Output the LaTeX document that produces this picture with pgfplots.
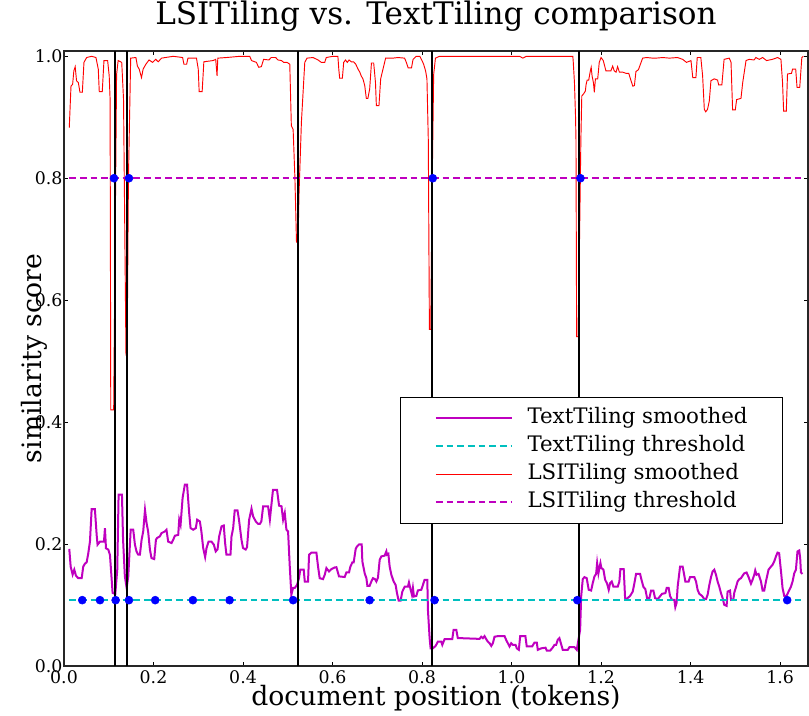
\documentclass[border=0pt]{standalone}
\usepackage{fontspec}
\setmainfont{DejaVu Serif}
\usepackage{pgfplots}
\usepackage{pgfplotstable}
\pgfplotsset{compat=1.18}

\definecolor{mplmagenta}{rgb}{0.75,0,0.75}
\definecolor{mplcyan}{rgb}{0,0.75,0.75}

% TextTiling smoothed similarity (position in 1e4 tokens, score)
\pgfplotstableread{
x y
0.0118 0.192
0.0149 0.163
0.0193 0.150
0.0230 0.158
0.0268 0.148
0.0320 0.144
0.0395 0.144
0.0430 0.163
0.0469 0.168
0.0506 0.170
0.0543 0.185
0.0580 0.204
0.0618 0.2575
0.0690 0.2575
0.0730 0.215
0.0750 0.199
0.0804 0.204
0.0893 0.204
0.0915 0.226
0.0938 0.193
0.0990 0.191
0.1027 0.182
0.1050 0.158
0.1086 0.120
0.1146 0.118
0.1190 0.158
0.1220 0.281
0.1295 0.281
0.1320 0.207
0.1360 0.147
0.1400 0.128
0.1436 0.147
0.1490 0.2235
0.1547 0.2235
0.1585 0.199
0.1620 0.188
0.1659 0.1825
0.1696 0.1825
0.1734 0.207
0.1770 0.2207
0.1810 0.256
0.1845 0.2345
0.1880 0.2207
0.1920 0.191
0.1955 0.177
0.2016 0.1754
0.2054 0.207
0.2080 0.210
0.2140 0.2125
0.2180 0.218
0.2254 0.2207
0.2290 0.2235
0.2328 0.204
0.2404 0.2017
0.2440 0.207
0.2478 0.2137
0.2552 0.215
0.2575 0.240
0.2605 0.2317
0.2650 0.2756
0.2700 0.2974
0.2750 0.2974
0.2797 0.251
0.2828 0.2263
0.2887 0.2235
0.2946 0.2263
0.2976 0.240
0.3036 0.237
0.3070 0.2207
0.3110 0.1935
0.3154 0.1787
0.3185 0.1935
0.3230 0.204
0.3296 0.204
0.3348 0.199
0.3390 0.188
0.3430 0.191
0.3467 0.2125
0.3520 0.229
0.3570 0.2305
0.3600 0.2017
0.3630 0.1825
0.3720 0.1825
0.3743 0.2125
0.3780 0.2263
0.3815 0.2552
0.3877 0.2552
0.3910 0.240
0.3966 0.207
0.4000 0.1935
0.4060 0.191
0.4090 0.195
0.4137 0.240
0.4190 0.258
0.4226 0.2454
0.4286 0.237
0.4340 0.233
0.4375 0.233
0.4410 0.237
0.4450 0.262
0.4560 0.262
0.4600 0.240
0.4635 0.2646
0.4670 0.289
0.4760 0.289
0.4806 0.263
0.4860 0.262
0.4896 0.240
0.4933 0.251
0.4970 0.2235
0.5007 0.2207
0.5045 0.163
0.5080 0.1168
0.5119 0.128
0.5156 0.128
0.5208 0.133
0.5250 0.144
0.5280 0.158
0.5357 0.158
0.5380 0.1386
0.5453 0.1386
0.5476 0.1825
0.5530 0.186
0.5640 0.186
0.5677 0.163
0.5714 0.144
0.5788 0.1425
0.5826 0.1496
0.5864 0.1606
0.5922 0.155
0.5975 0.159
0.6049 0.1616
0.6087 0.162
0.6145 0.147
0.6272 0.146
0.6310 0.1534
0.6368 0.1534
0.6400 0.163
0.6444 0.170
0.6473 0.170
0.6518 0.192
0.6547 0.196
0.6592 0.1994
0.6652 0.1994
0.6667 0.1715
0.6719 0.152
0.6757 0.144
0.6779 0.1316
0.6830 0.1316
0.6868 0.1386
0.6904 0.144
0.6949 0.1425
0.6980 0.1386
0.7016 0.145
0.7054 0.174
0.7090 0.1797
0.7165 0.181
0.7203 0.188
0.7217 0.1825
0.7248 0.184
0.7277 0.163
0.7315 0.1496
0.7366 0.1386
0.7410 0.133
0.7440 0.1196
0.7478 0.1074
0.7522 0.1074
0.7560 0.122
0.7612 0.130
0.7685 0.130
0.7708 0.137
0.7746 0.125
0.7775 0.1168
0.7797 0.128
0.7820 0.114
0.7873 0.115
0.7908 0.124
0.7984 0.125
0.8020 0.133
0.8058 0.1414
0.8118 0.1414
0.8132 0.092
0.8170 0.0457
0.8192 0.029
0.8243 0.029
0.8304 0.033
0.8355 0.040
0.8430 0.040
0.8453 0.0347
0.8504 0.044
0.8676 0.044
0.8705 0.0593
0.8766 0.0593
0.8800 0.0457
0.8855 0.0457
0.9286 0.0445
0.9323 0.048
0.9360 0.0457
0.9397 0.049
0.9435 0.044
0.9470 0.040
0.9510 0.0374
0.9547 0.033
0.9583 0.0374
0.9620 0.048
0.9694 0.049
0.9844 0.049
0.9880 0.0429
0.9955 0.032
0.9993 0.0374
1.0030 0.0347
1.0090 0.0347
1.0118 0.029
1.0163 0.0265
1.0194 0.049
1.0310 0.049
1.0340 0.032
1.0460 0.032
1.0513 0.0384
1.0565 0.0384
1.0587 0.0265
1.0663 0.029
1.0760 0.030
1.0788 0.0253
1.0864 0.0253
1.0908 0.029
1.0960 0.0347
1.0997 0.0347
1.1033 0.043
1.1070 0.0457
1.1145 0.0265
1.1257 0.0265
1.1295 0.031
1.1406 0.031
1.1458 0.0265
1.1533 0.0593
1.1556 0.114
1.1592 0.1425
1.1630 0.1458
1.1680 0.144
1.1725 0.125
1.1779 0.1238
1.1815 0.136
1.1853 0.1468
1.1890 0.151
1.1913 0.1688
1.1942 0.152
1.1964 0.1606
1.1987 0.1688
1.2009 0.1606
1.2054 0.158
1.2092 0.1414
1.2136 0.135
1.2172 0.125
1.2203 0.136
1.2239 0.1386
1.2277 0.130
1.2373 0.130
1.2410 0.1386
1.2433 0.159
1.2507 0.159
1.2538 0.1114
1.2560 0.1097
1.2596 0.1114
1.2650 0.115
1.2708 0.122
1.2746 0.136
1.2783 0.151
1.2873 0.151
1.2895 0.144
1.2946 0.130
1.2990 0.126
1.3029 0.1114
1.3080 0.1114
1.3118 0.1238
1.3170 0.1238
1.3207 0.1114
1.3266 0.1097
1.3304 0.113
1.3364 0.1184
1.3438 0.1196
1.3467 0.128
1.3511 0.128
1.3542 0.115
1.3587 0.1085
1.3638 0.1085
1.3660 0.0966
1.3690 0.104
1.3712 0.130
1.3766 0.163
1.3824 0.163
1.3862 0.148
1.3884 0.1386
1.3958 0.1386
1.3989 0.1458
1.4085 0.1458
1.4123 0.1386
1.4158 0.125
1.4196 0.1184
1.4257 0.115
1.4308 0.1097
1.4346 0.1097
1.4382 0.1168
1.4420 0.133
1.4458 0.1458
1.4493 0.155
1.4531 0.158
1.4569 0.1496
1.4605 0.1386
1.4643 0.130
1.4680 0.1196
1.4717 0.1114
1.4754 0.1003
1.4806 0.0987
1.4828 0.122
1.4882 0.1238
1.4904 0.1085
1.4955 0.1085
1.4978 0.1205
1.5016 0.1294
1.5051 0.1386
1.5090 0.1425
1.5127 0.144
1.5163 0.148
1.5200 0.152
1.5252 0.1534
1.5297 0.1458
1.5350 0.135
1.5386 0.1414
1.5424 0.1496
1.5446 0.1567
1.5475 0.1496
1.5520 0.151
1.5574 0.1386
1.5610 0.1238
1.5647 0.1238
1.5685 0.1386
1.5743 0.158
1.5797 0.163
1.5833 0.166
1.5870 0.1715
1.5908 0.1797
1.5944 0.186
1.5980 0.185
1.6029 0.1496
1.6056 0.128
1.6094 0.115
1.6145 0.115
1.6190 0.122
1.6243 0.130
1.6280 0.1386
1.6317 0.152
1.6355 0.158
1.6390 0.188
1.6429 0.1895
1.6450 0.177
1.6467 0.1534
1.6502 0.151
}\texttiling

% LSITiling smoothed similarity
\pgfplotstableread{
x y
0.0118 0.883
0.0156 0.951
0.0193 0.954
0.0220 0.976
0.0250 0.983
0.0280 0.960
0.0320 0.957
0.0357 0.941
0.0410 0.941
0.0446 0.990
0.0506 0.998
0.0618 1.000
0.0714 0.998
0.0766 0.979
0.0788 0.942
0.0855 0.942
0.0893 0.993
0.0975 0.993
0.1010 0.968
0.1030 0.930
0.1045 0.420
0.1110 0.420
0.1175 0.970
0.1210 0.993
0.1290 0.990
0.1330 0.930
0.1385 0.510
0.1410 0.510
0.1440 0.800
0.1490 0.997
0.1607 0.998
0.1640 0.984
0.1680 0.979
0.1732 0.965
0.1768 0.979
0.1830 0.987
0.1900 0.994
0.1980 0.990
0.2050 0.995
0.2105 0.991
0.2180 0.997
0.2440 1.000
0.2650 0.998
0.2680 0.987
0.2740 0.987
0.2770 0.997
0.2960 0.997
0.3000 0.979
0.3020 0.942
0.3087 0.942
0.3125 0.991
0.3330 0.993
0.3390 0.995
0.3420 0.968
0.3437 0.997
0.3630 0.998
0.3929 1.000
0.4150 1.000
0.4190 0.993
0.4300 0.990
0.4350 0.982
0.4410 0.983
0.4460 0.995
0.4580 0.994
0.4630 0.998
0.4730 0.998
0.4780 0.994
0.4860 0.993
0.4910 0.990
0.4985 0.990
0.5045 0.987
0.5080 0.886
0.5120 0.880
0.5160 0.800
0.5195 0.695
0.5230 0.695
0.5250 0.771
0.5305 0.892
0.5380 0.990
0.5430 0.997
0.5565 0.998
0.5676 0.994
0.5750 0.990
0.5826 0.990
0.5860 0.998
0.6010 1.000
0.6120 1.000
0.6140 0.979
0.6160 0.964
0.6220 0.964
0.6250 0.990
0.6290 0.994
0.6330 0.990
0.6370 0.994
0.6420 0.991
0.6470 0.991
0.6520 0.987
0.6570 0.979
0.6610 0.974
0.6640 0.968
0.6680 0.963
0.6720 0.952
0.6755 0.931
0.6790 0.931
0.6830 0.946
0.6870 0.989
0.6920 0.989
0.6960 0.957
0.6980 0.919
0.7038 0.919
0.7076 0.963
0.7128 0.979
0.7187 0.997
0.7350 0.997
0.7460 0.998
0.7610 0.997
0.7650 0.990
0.7690 0.981
0.7765 0.981
0.7800 0.995
0.7870 1.000
0.7950 1.000
0.8000 0.993
0.8036 0.987
0.8080 0.976
0.8110 0.963
0.8140 0.864
0.8165 0.552
0.8195 0.552
0.8220 0.750
0.8260 0.970
0.8300 0.997
0.8390 1.000
0.9435 1.000
1.0180 1.000
1.0253 0.997
1.0330 1.000
1.1370 1.000
1.1380 0.990
1.1406 0.957
1.1430 0.902
1.1440 0.864
1.1455 0.540
1.1490 0.540
1.1550 0.864
1.1570 0.935
1.1607 0.938
1.1650 0.943
1.1667 0.954
1.1690 0.961
1.1725 0.961
1.1756 0.974
1.1780 0.982
1.1800 0.968
1.1830 0.957
1.1850 0.941
1.1875 0.963
1.1926 0.963
1.1960 0.990
1.2000 0.998
1.2050 0.993
1.2110 0.976
1.2220 0.976
1.2260 0.984
1.2296 0.976
1.2336 0.974
1.2370 0.983
1.2410 0.974
1.2485 0.974
1.2560 0.972
1.2620 0.972
1.2670 0.960
1.2710 0.951
1.2746 0.952
1.2780 0.975
1.2835 0.978
1.2895 0.990
1.2930 0.997
1.3020 0.998
1.3155 0.997
1.3230 0.997
1.3377 0.998
1.3527 0.997
1.3710 0.998
1.3824 0.995
1.3910 0.990
1.4010 0.993
1.4050 0.965
1.4120 0.965
1.4150 0.998
1.4230 0.998
1.4270 0.968
1.4308 0.913
1.4340 0.909
1.4380 0.913
1.4420 0.927
1.4456 0.960
1.4530 0.963
1.4605 0.961
1.4628 0.953
1.4700 0.953
1.4750 0.995
1.4866 0.997
1.4905 0.990
1.4940 0.912
1.5000 0.912
1.5030 0.929
1.5127 0.931
1.5166 0.957
1.5240 0.993
1.5310 0.995
1.5420 0.994
1.5460 0.998
1.5536 0.995
1.5610 0.998
1.5700 0.993
1.5830 0.995
1.5945 0.998
1.6020 0.995
1.6056 0.957
1.6080 0.910
1.6140 0.910
1.6167 0.971
1.6256 0.972
1.6280 0.979
1.6350 0.979
1.6380 0.949
1.6440 0.949
1.6487 0.998
1.6520 1.000
}\lsitiling

\begin{document}
\begin{tikzpicture}
\begin{axis}[
  at={(0,0)}, anchor=south west,
  scale only axis,
  width=558pt, height=461.25pt,
  xmin=0, xmax=1.6625,
  ymin=0, ymax=1.0087,
  xtick={0,0.2,0.4,0.6,0.8,1.0,1.2,1.4,1.6},
  ytick={0,0.2,0.4,0.6,0.8,1.0},
  xtick pos=both, ytick pos=both,
  tick align=inside,
  major tick length=3pt,
  tick style={black, line width=0.6pt},
  axis line style={black!85, line width=0.8pt},
  /pgf/number format/assume math mode=true,
  xticklabel style={/pgf/number format/.cd, fixed, fixed zerofill, precision=1,
    /tikz/.cd, font=\fontsize{13}{15}\selectfont, anchor=base, inner sep=0pt, yshift=-12.75pt},
  yticklabel style={/pgf/number format/.cd, fixed, fixed zerofill, precision=1,
    /tikz/.cd, font=\fontsize{13}{15}\selectfont, anchor=east, inner sep=0pt, xshift=-1pt},
  title={LSITiling vs. TextTiling comparison},
  title style={font=\fontsize{23.3}{27}\selectfont, at={(axis description cs:0.5,1.0293)}, anchor=base, inner sep=0pt},
  xlabel={document position (tokens)},
  xlabel style={font=\fontsize{20}{24}\selectfont, at={(axis description cs:0.5,-0.0650)}, anchor=base, inner sep=0pt},
  ylabel={similarity score},
  ylabel style={font=\fontsize{20}{24}\selectfont, at={(axis description cs:-0.0309,0.5)}, anchor=base, inner sep=0pt},
  legend cell align=left,
  legend style={at={(axis description cs:0.966,0.437)}, anchor=north east,
    draw=black, line width=0.6pt, fill=white,
    font=\fontsize{16}{19}\selectfont,
    row sep=0pt, inner xsep=26pt, inner ysep=5pt,
    nodes={inner xsep=0pt, inner ysep=2.5pt, text height=12pt, text depth=4pt}},
  legend image code/.code={\draw[#1] (0pt,0pt) -- (57pt,0pt); \path (68pt,0pt);},
]
% similarity curves and their thresholds
\addplot[mplmagenta, line width=1.5pt] table {\texttiling};
\addlegendentry{TextTiling smoothed}
\addplot[mplcyan, line width=1.25pt, dash pattern=on 5pt off 3pt] coordinates {(0.0118,0.108) (1.652,0.108)};
\addlegendentry{TextTiling threshold}
\addplot[red, line width=0.7pt] table {\lsitiling};
\addlegendentry{LSITiling smoothed}
\addplot[mplmagenta, line width=1.25pt, dash pattern=on 5pt off 3pt] coordinates {(0.0118,0.8) (1.652,0.8)};
\addlegendentry{LSITiling threshold}

% detected boundaries
\addplot[forget plot, only marks, mark=*, mark size=3pt, blue] coordinates {
  (0.0408,0.108) (0.0804,0.108) (0.1154,0.108) (0.1451,0.108) (0.2038,0.108)
  (0.2880,0.108) (0.3700,0.108) (0.5120,0.108) (0.6830,0.108) (0.8280,0.108)
  (1.1470,0.108) (1.6160,0.108)};
\addplot[forget plot, only marks, mark=*, mark size=3pt, blue] coordinates {
  (0.1116,0.8) (0.1451,0.8) (0.8240,0.8) (1.1540,0.8)};

% reference segment boundaries
\addplot[forget plot, black, line width=1.5pt] coordinates {(0.114,0) (0.114,1.0087)};
\addplot[forget plot, black, line width=1.5pt] coordinates {(0.140,0) (0.140,1.0087)};
\addplot[forget plot, black, line width=1.5pt] coordinates {(0.522,0) (0.522,1.0087)};
\addplot[forget plot, black, line width=1.5pt] coordinates {(0.822,0) (0.822,1.0087)};
\addplot[forget plot, black, line width=1.5pt] coordinates {(1.150,0) (1.150,1.0087)};

\node[anchor=base east, font=\fontsize{6}{7}\selectfont, inner sep=0pt]
  at (axis description cs:1,-0.043) {x1e+4};
\end{axis}
\pgfresetboundingbox
\path[use as bounding box] (-48pt,-36.75pt) rectangle (558.75pt,499.5pt);
\end{tikzpicture}
\end{document}
